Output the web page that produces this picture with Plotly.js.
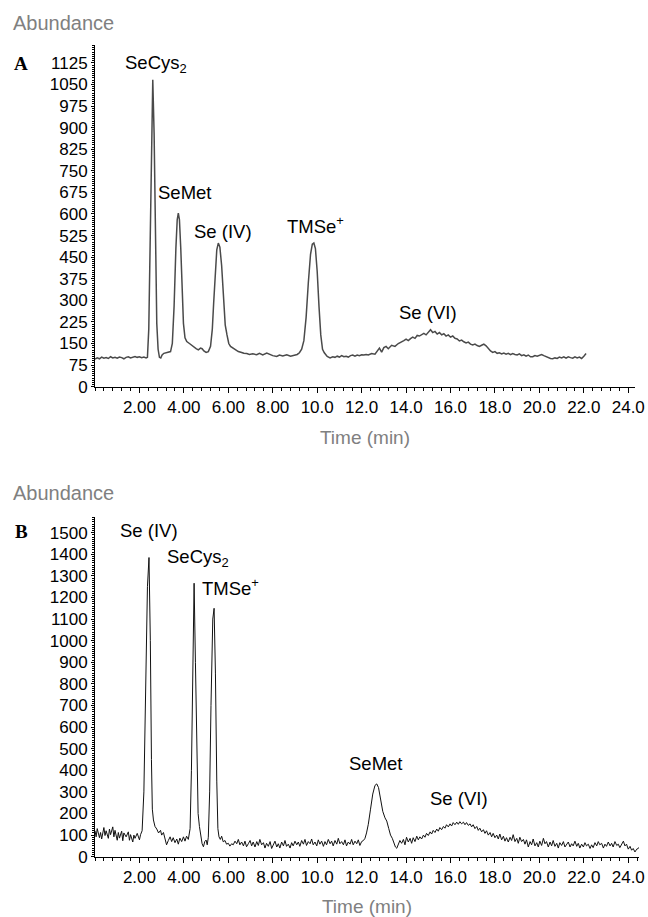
<!DOCTYPE html>
<html>
<head>
<meta charset="utf-8">
<script src="https://cdn.plot.ly/plotly-3.0.1.min.js"></script>
<style>html,body{margin:0;padding:0;background:#fff;}#chart{width:648px;height:917px;}</style>
</head>
<body>
<div id="chart"></div>
<script>
// ---------- Panel A data ----------
const timeA = [0.00,0.10,0.20,0.30,0.40,0.50,0.60,0.70,0.80,0.90,1.00,1.10,1.20,1.30,1.40,1.50,1.60,1.70,1.80,1.90,2.00,2.10,2.20,2.30,2.36,2.42,2.48,2.54,2.60,2.66,2.72,2.78,2.84,2.90,2.96,3.02,3.10,3.20,3.30,3.40,3.48,3.56,3.64,3.70,3.75,3.80,3.86,3.92,3.98,4.05,4.13,4.25,4.35,4.45,4.55,4.65,4.75,4.82,4.90,5.00,5.10,5.20,5.28,5.34,5.42,5.48,5.55,5.62,5.70,5.78,5.86,5.94,6.02,6.10,6.20,6.30,6.45,6.60,6.70,6.83,6.95,7.10,7.28,7.40,7.55,7.73,7.85,8.00,8.18,8.30,8.45,8.63,8.80,8.95,9.10,9.20,9.30,9.40,9.50,9.60,9.70,9.78,9.85,9.92,10.00,10.08,10.16,10.24,10.32,10.45,10.58,10.70,10.80,10.90,11.00,11.10,11.20,11.30,11.40,11.50,11.60,11.70,11.80,11.90,12.00,12.10,12.20,12.30,12.45,12.60,12.70,12.80,12.90,13.00,13.10,13.20,13.35,13.50,13.65,13.80,13.90,14.00,14.10,14.20,14.30,14.40,14.50,14.60,14.70,14.80,14.90,15.00,15.10,15.20,15.30,15.40,15.50,15.60,15.70,15.80,15.90,16.00,16.10,16.20,16.30,16.40,16.50,16.60,16.70,16.80,16.90,17.00,17.10,17.20,17.30,17.40,17.50,17.60,17.70,17.80,17.90,18.00,18.10,18.20,18.30,18.40,18.50,18.60,18.70,18.80,18.90,19.00,19.10,19.20,19.30,19.40,19.50,19.60,19.70,19.80,19.90,20.00,20.10,20.20,20.30,20.40,20.50,20.60,20.70,20.80,20.90,21.00,21.10,21.20,21.30,21.40,21.50,21.60,21.70,21.80,21.90,22.00,22.10];
const abundA = [96,100,97,103,99,101,98,104,100,102,99,103,101,97,102,104,100,103,105,102,104,101,103,100,102,200,500,900,1066,880,480,220,130,102,100,110,116,118,119,122,150,280,480,580,603,580,480,330,220,170,157,150,143,138,132,128,134,132,124,119,122,140,200,290,410,475,499,485,420,310,215,180,150,140,134,128,122,119,116,115,112,114,111,116,110,117,112,108,105,110,107,111,106,110,112,118,130,160,240,360,460,495,499,480,400,280,180,130,118,105,100,104,102,106,103,108,104,106,103,108,110,106,110,108,111,110,112,110,115,113,125,134,120,136,140,132,144,140,150,155,160,165,160,167,172,168,178,176,182,185,180,190,198,188,192,183,188,180,184,176,180,172,176,168,166,159,162,156,152,155,148,145,148,143,140,144,148,142,132,124,119,122,116,118,114,117,113,116,111,115,112,110,114,108,111,106,110,104,104,108,106,110,112,108,104,100,98,97,100,98,103,100,104,99,104,101,99,104,100,103,98,106,115];

// ---------- Panel B data ----------
const timeB = [0.00,0.05,0.10,0.20,0.25,0.30,0.40,0.45,0.50,0.60,0.65,0.70,0.80,0.85,0.90,1.00,1.05,1.10,1.20,1.25,1.30,1.40,1.50,1.55,1.60,1.70,1.75,1.80,1.90,2.00,2.05,2.12,2.20,2.28,2.36,2.43,2.49,2.54,2.58,2.63,2.70,2.78,2.86,2.95,3.00,3.08,3.15,3.22,3.30,3.38,3.45,3.52,3.60,3.68,3.75,3.82,3.90,3.98,4.05,4.12,4.20,4.28,4.34,4.40,4.46,4.52,4.58,4.64,4.70,4.76,4.82,4.88,4.94,5.00,5.05,5.10,5.16,5.22,5.30,5.36,5.42,5.48,5.53,5.58,5.64,5.70,5.77,5.85,5.92,6.00,6.07,6.15,6.22,6.30,6.38,6.45,6.52,6.60,6.68,6.75,6.82,6.90,6.98,7.05,7.12,7.20,7.28,7.35,7.42,7.50,7.58,7.65,7.72,7.80,7.88,7.95,8.02,8.10,8.18,8.25,8.32,8.40,8.48,8.55,8.62,8.70,8.78,8.85,8.92,9.00,9.08,9.15,9.22,9.30,9.38,9.45,9.52,9.60,9.68,9.75,9.82,9.90,9.98,10.05,10.12,10.20,10.28,10.35,10.42,10.50,10.58,10.65,10.72,10.80,10.88,10.95,11.02,11.10,11.18,11.25,11.32,11.40,11.48,11.55,11.62,11.70,11.78,11.85,11.92,12.00,12.08,12.15,12.22,12.30,12.40,12.50,12.60,12.68,12.76,12.85,12.95,13.05,13.13,13.22,13.30,13.38,13.45,13.52,13.58,13.65,13.72,13.80,13.88,13.95,14.02,14.10,14.18,14.25,14.32,14.40,14.48,14.55,14.62,14.70,14.78,14.85,14.92,15.00,15.08,15.15,15.22,15.30,15.38,15.45,15.52,15.60,15.68,15.75,15.82,15.90,15.98,16.05,16.12,16.20,16.28,16.35,16.42,16.50,16.58,16.65,16.72,16.80,16.88,16.95,17.02,17.10,17.18,17.25,17.32,17.40,17.48,17.55,17.62,17.70,17.78,17.85,17.92,18.00,18.08,18.15,18.22,18.30,18.38,18.45,18.52,18.60,18.68,18.75,18.82,18.90,18.98,19.05,19.12,19.20,19.28,19.35,19.42,19.50,19.58,19.65,19.72,19.80,19.88,19.95,20.02,20.10,20.18,20.25,20.32,20.40,20.48,20.55,20.62,20.70,20.78,20.85,20.92,21.00,21.08,21.15,21.22,21.30,21.38,21.45,21.52,21.60,21.68,21.75,21.82,21.90,21.98,22.05,22.12,22.20,22.28,22.35,22.42,22.50,22.58,22.65,22.72,22.80,22.88,22.95,23.02,23.10,23.18,23.25,23.32,23.40,23.48,23.55,23.62,23.70,23.78,23.85,23.92,24.00,24.08,24.15,24.22,24.30,24.38,24.45,24.50];
const abundB = [120,92,130,88,112,82,135,98,120,85,128,102,138,92,122,76,112,86,118,74,110,92,115,76,102,68,100,85,108,78,102,120,300,800,1250,1385,1000,450,220,170,140,128,110,122,100,112,85,55,75,92,70,88,65,82,58,86,70,92,72,95,80,130,400,950,1266,900,420,200,140,100,60,46,70,77,55,90,300,700,1100,1150,850,350,130,92,80,95,69,75,58,62,49,60,55,72,60,80,55,68,50,72,46,60,75,50,68,45,70,52,80,55,65,40,62,48,70,38,55,72,45,60,40,68,50,75,48,58,40,65,50,72,55,68,48,75,58,80,52,70,60,82,55,68,50,78,58,72,48,70,55,80,60,72,50,75,58,85,60,70,55,78,50,68,58,80,55,72,60,78,52,70,75,85,110,150,220,290,330,337,320,260,210,180,165,130,100,85,60,45,39,60,75,62,80,55,90,68,85,62,88,70,95,78,92,82,100,90,108,98,115,105,122,112,128,118,135,125,140,132,148,138,152,142,158,148,160,150,162,152,160,148,158,145,152,138,148,130,140,122,132,115,125,108,120,100,112,92,108,88,100,82,105,78,95,72,88,68,90,75,102,70,85,62,90,70,80,58,78,45,70,55,82,50,65,45,72,52,85,60,70,45,68,50,75,48,62,40,65,52,70,45,58,68,45,60,50,72,48,62,40,58,45,65,50,58,38,55,42,65,50,70,55,62,40,58,48,68,50,62,45,70,52,58,42,60,72,50,58,35,48,30,38,22,35,38,45];

// ---------- Tick labels ----------
const xTickVals = [2,4,6,8,10,12,14,16,18,20,22,24];
const xTickText = ["2.00","4.00","6.00","8.00","10.0","12.0","14.0","16.0","18.0","20.0","22.0","24.0"];

// ---------- Peak labels ----------
const labelsA = ["SeCys<sub>2</sub>","SeMet","Se (IV)","TMSe<sup>+</sup>","Se (VI)"];
const labelTimeA = [2.75,4.03,5.76,9.94,14.99];
const labelAbundA = [1120,674,539,560,258];
const labelsB = ["Se (IV)","SeCys<sub>2</sub>","TMSe<sup>+</sup>","SeMet","Se (VI)"];
const labelTimeB = [2.43,4.62,6.1,12.62,16.4];
const labelAbundB = [1509,1385,1250,432,270];

const W = 648, H = 917;
const px = v => v / W;
const py = v => 1 - v / H;
const FONT = "Liberation Sans, Arial, Helvetica, sans-serif";

const traces = [
  {x: timeA, y: abundA, xaxis: 'x', yaxis: 'y', type: 'scatter', mode: 'lines',
   line: {color: '#4a4a4a', width: 1.5}, hoverinfo: 'x+y'},
  {x: timeB, y: abundB, xaxis: 'x2', yaxis: 'y2', type: 'scatter', mode: 'lines',
   line: {color: '#111111', width: 1}, hoverinfo: 'x+y'}
];

function xAxis(anchor, title, end) {
  return {
    anchor: anchor, domain: [px(95), px(end)], range: [0, (end - 95) / 22.22],
    showline: true, linecolor: '#000', linewidth: 1, mirror: false,
    showgrid: false, zeroline: false,
    tickmode: 'array', tickvals: xTickVals, ticktext: xTickText,
    ticks: 'outside', ticklen: 5, tickcolor: '#000', tickwidth: 1,
    tickfont: {family: FONT, size: 17, color: '#000'},
    minor: {tickmode: 'linear', tick0: 0, dtick: 0.4, ticks: 'outside', ticklen: 3, tickcolor: '#000', showgrid: false},
    title: {text: title, font: {family: FONT, size: 19, color: '#808080'}, standoff: 14},
    fixedrange: true
  };
}
function yAxis(anchor, top, bottom, max, step, mstep) {
  return {
    anchor: anchor, domain: [py(bottom), py(top)], range: [0, max],
    showline: true, linecolor: '#000', linewidth: 1,
    showgrid: false, zeroline: false,
    tickmode: 'linear', tick0: 0, dtick: step,
    ticks: 'outside', ticklen: 3, tickcolor: '#000',
    tickfont: {family: FONT, size: 17, color: '#000'},
    minor: {tickmode: 'linear', tick0: 0, dtick: mstep, ticks: 'outside', ticklen: 2, tickcolor: '#000', showgrid: false},
    fixedrange: true
  };
}

const annotations = [];
function add(text, x, y, xref, yref, font, xanchor) {
  annotations.push({text: text, x: x, y: y, xref: xref, yref: yref, showarrow: false,
    xanchor: xanchor || 'center', yanchor: 'middle', font: font});
}
const labFont = {family: FONT, size: 18.5, color: '#000'};
labelsA.forEach((t, i) => add(t, labelTimeA[i], labelAbundA[i], 'x', 'y', labFont));
labelsB.forEach((t, i) => add(t, labelTimeB[i], labelAbundB[i], 'x2', 'y2', labFont));
const absFont = {family: FONT, size: 20, color: '#808080'};
add('Abundance', px(11), py(23), 'paper', 'paper', absFont, 'left');
add('Abundance', px(11), py(493), 'paper', 'paper', absFont, 'left');
const panFont = {family: 'Liberation Serif, Times New Roman, serif', size: 19, color: '#000'};
add('<b>A</b>', px(21), py(63), 'paper', 'paper', panFont);
add('<b>B</b>', px(21), py(531), 'paper', 'paper', panFont);

const layout = {
  width: W, height: H, margin: {l: 0, r: 0, t: 0, b: 0},
  paper_bgcolor: '#fff', plot_bgcolor: '#fff', showlegend: false,
  xaxis: xAxis('y', 'Time (min)', 635),
  yaxis: yAxis('x', 45, 386.7, 1187, 75, 7.5),
  xaxis2: xAxis('y2', 'Time (min)', 639),
  yaxis2: yAxis('x2', 516.7, 856.7, 1574, 100, 10),
  annotations: annotations
};

Plotly.newPlot('chart', traces, layout, {displayModeBar: false, staticPlot: true});
</script>
</body>
</html>
